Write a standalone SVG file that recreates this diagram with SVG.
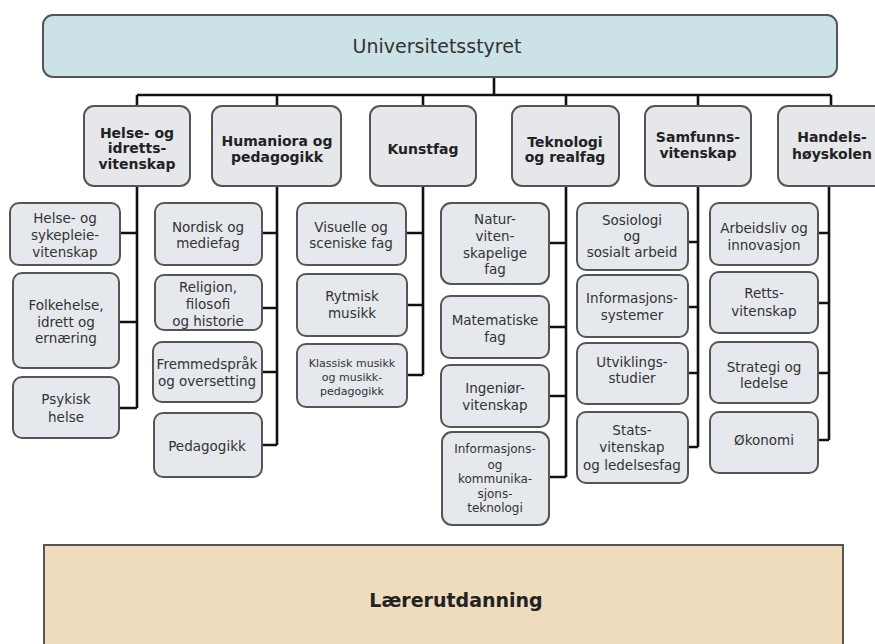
<svg xmlns="http://www.w3.org/2000/svg" width="875" height="644" viewBox="0 0 875 644">
<style>
.bg{fill:#ffffff}
.top{fill:#cbe2e7;stroke:#555;stroke-width:2}
.bot{fill:#eedcbd;stroke:#555;stroke-width:2}
.fac{fill:#e6e7ea;stroke:#555;stroke-width:2}
.sub{fill:#e5e8ec;stroke:#555;stroke-width:2}
.ln{stroke:#111;stroke-width:2.6;fill:none}
text{font-family:"DejaVu Sans","Liberation Sans",sans-serif;text-anchor:middle;dominant-baseline:central}
.tt{font-size:19px;fill:#333}
.ft{font-size:14px;font-weight:bold;fill:#222}
.st{font-size:13.5px;fill:#333}
.sm{font-size:11px;fill:#333}
.sm2{font-size:12px;fill:#333}
.bt{font-size:19px;font-weight:bold;fill:#222}
</style>
<rect class="bg" x="0" y="0" width="875" height="644"/>
<g id="connectors">
<path class="ln" d="M494 77V95M137 95H831M137 95V106M277 95V106M423 95V106M566 95V106M698 95V106M831 95V106"/>
<path class="ln" d="M137 186V408M120 233H137M119 322H137M119 408H137"/>
<path class="ln" d="M277 186V445M262 233H277M262 308H277M262 372H277M262 445H277"/>
<path class="ln" d="M423 186V375M406 233H423M407 305H423M407 375H423"/>
<path class="ln" d="M566 186V477M549 243H566M549 327H566M549 396H566M549 477H566"/>
<path class="ln" d="M698 186V447M688 242H698M688 307H698M688 373H698M688 447H698"/>
<path class="ln" d="M829 186V440M818 233H829M818 303H829M818 373H829M818 440H829"/>
</g>
<g id="universitetsstyret">
<rect class="top" x="43" y="15" width="794" height="62" rx="10"/>
<text class="tt" x="437" y="46">Universitetsstyret</text>
</g>
<g id="helse-idrett">
<rect class="fac" x="84" y="106" width="106" height="80" rx="10"/>
<text class="ft" x="137" y="133">Helse- og</text>
<text class="ft" x="137" y="148">idretts-</text>
<text class="ft" x="137" y="164">vitenskap</text>
</g>
<g id="humaniora">
<rect class="fac" x="212" y="106" width="129" height="80" rx="10"/>
<text class="ft" x="277" y="141">Humaniora og</text>
<text class="ft" x="277" y="157">pedagogikk</text>
</g>
<g id="kunstfag">
<rect class="fac" x="370" y="106" width="106" height="80" rx="10"/>
<text class="ft" x="423" y="149">Kunstfag</text>
</g>
<g id="teknologi">
<rect class="fac" x="512" y="106" width="107" height="80" rx="10"/>
<text class="ft" x="565" y="142">Teknologi</text>
<text class="ft" x="565" y="157">og realfag</text>
</g>
<g id="samfunn">
<rect class="fac" x="645" y="106" width="106" height="80" rx="10"/>
<text class="ft" x="698" y="137">Samfunns-</text>
<text class="ft" x="698" y="153">vitenskap</text>
</g>
<g id="handels">
<rect class="fac" x="778" y="106" width="110" height="80" rx="10"/>
<text class="ft" x="832" y="137">Handels-</text>
<text class="ft" x="832" y="154">høyskolen</text>
</g>
<g id="helse-sykepleie">
<rect class="sub" x="10" y="203" width="110" height="62" rx="9"/>
<text class="st" x="65" y="218">Helse- og</text>
<text class="st" x="65" y="235">sykepleie-</text>
<text class="st" x="65" y="252">vitenskap</text>
</g>
<g id="folkehelse">
<rect class="sub" x="13" y="273" width="106" height="95" rx="9"/>
<text class="st" x="66" y="305">Folkehelse,</text>
<text class="st" x="66" y="322">idrett og</text>
<text class="st" x="66" y="338">ernæring</text>
</g>
<g id="psykisk">
<rect class="sub" x="13" y="377" width="106" height="61" rx="9"/>
<text class="st" x="66" y="399">Psykisk</text>
<text class="st" x="66" y="417">helse</text>
</g>
<g id="nordisk">
<rect class="sub" x="155" y="203" width="107" height="62" rx="9"/>
<text class="st" x="208" y="227">Nordisk og</text>
<text class="st" x="208" y="243">mediefag</text>
</g>
<g id="religion">
<rect class="sub" x="155" y="275" width="107" height="55" rx="9"/>
<text class="st" x="208" y="287">Religion,</text>
<text class="st" x="208" y="304">filosofi</text>
<text class="st" x="208" y="321">og historie</text>
</g>
<g id="fremmedsprak">
<rect class="sub" x="153" y="342" width="109" height="60" rx="9"/>
<text class="st" x="207" y="364">Fremmedspråk</text>
<text class="st" x="207" y="381">og oversetting</text>
</g>
<g id="pedagogikk">
<rect class="sub" x="154" y="413" width="108" height="64" rx="9"/>
<text class="st" x="207" y="446">Pedagogikk</text>
</g>
<g id="visuelle">
<rect class="sub" x="297" y="203" width="109" height="62" rx="9"/>
<text class="st" x="351" y="227">Visuelle og</text>
<text class="st" x="351" y="243">sceniske fag</text>
</g>
<g id="rytmisk">
<rect class="sub" x="297" y="274" width="110" height="62" rx="9"/>
<text class="st" x="352" y="296">Rytmisk</text>
<text class="st" x="352" y="313">musikk</text>
</g>
<g id="klassisk">
<rect class="sub" x="297" y="344" width="110" height="63" rx="9"/>
<text class="sm" x="352" y="363">Klassisk musikk</text>
<text class="sm" x="352" y="377">og musikk-</text>
<text class="sm" x="352" y="391">pedagogikk</text>
</g>
<g id="natur">
<rect class="sub" x="441" y="203" width="108" height="81" rx="10"/>
<text class="st" x="495" y="219">Natur-</text>
<text class="st" x="495" y="236">viten-</text>
<text class="st" x="495" y="253">skapelige</text>
<text class="st" x="495" y="269">fag</text>
</g>
<g id="matematiske">
<rect class="sub" x="441" y="296" width="108" height="62" rx="9"/>
<text class="st" x="495" y="320">Matematiske</text>
<text class="st" x="495" y="337">fag</text>
</g>
<g id="ingenior">
<rect class="sub" x="441" y="365" width="108" height="62" rx="9"/>
<text class="st" x="495" y="388">Ingeniør-</text>
<text class="st" x="495" y="405">vitenskap</text>
</g>
<g id="ikt">
<rect class="sub" x="442" y="432" width="107" height="93" rx="10"/>
<text class="sm2" x="495" y="449">Informasjons-</text>
<text class="sm2" x="495" y="465">og</text>
<text class="sm2" x="495" y="479">kommunika-</text>
<text class="sm2" x="495" y="494">sjons-</text>
<text class="sm2" x="495" y="508">teknologi</text>
</g>
<g id="sosiologi">
<rect class="sub" x="577" y="203" width="111" height="67" rx="9"/>
<text class="st" x="632" y="220">Sosiologi</text>
<text class="st" x="632" y="236">og</text>
<text class="st" x="632" y="252">sosialt arbeid</text>
</g>
<g id="informasjonssystemer">
<rect class="sub" x="577" y="275" width="111" height="62" rx="9"/>
<text class="st" x="632" y="298">Informasjons-</text>
<text class="st" x="632" y="315">systemer</text>
</g>
<g id="utviklingsstudier">
<rect class="sub" x="577" y="343" width="111" height="61" rx="9"/>
<text class="st" x="632" y="362">Utviklings-</text>
<text class="st" x="632" y="378">studier</text>
</g>
<g id="statsvitenskap">
<rect class="sub" x="577" y="412" width="111" height="71" rx="9"/>
<text class="st" x="632" y="430">Stats-</text>
<text class="st" x="632" y="447">vitenskap</text>
<text class="st" x="632" y="465">og ledelsesfag</text>
</g>
<g id="arbeidsliv">
<rect class="sub" x="710" y="203" width="108" height="62" rx="9"/>
<text class="st" x="764" y="228">Arbeidsliv og</text>
<text class="st" x="764" y="245">innovasjon</text>
</g>
<g id="rettsvitenskap">
<rect class="sub" x="710" y="272" width="108" height="61" rx="9"/>
<text class="st" x="764" y="293">Retts-</text>
<text class="st" x="764" y="311">vitenskap</text>
</g>
<g id="strategi">
<rect class="sub" x="710" y="342" width="108" height="61" rx="9"/>
<text class="st" x="764" y="367">Strategi og</text>
<text class="st" x="764" y="383">ledelse</text>
</g>
<g id="okonomi">
<rect class="sub" x="710" y="412" width="108" height="61" rx="9"/>
<text class="st" x="764" y="440">Økonomi</text>
</g>
<g id="lærerutdanning">
<rect class="bot" x="44" y="545" width="799" height="110"/>
<text class="bt" x="456" y="600">Lærerutdanning</text>
</g>
</svg>
